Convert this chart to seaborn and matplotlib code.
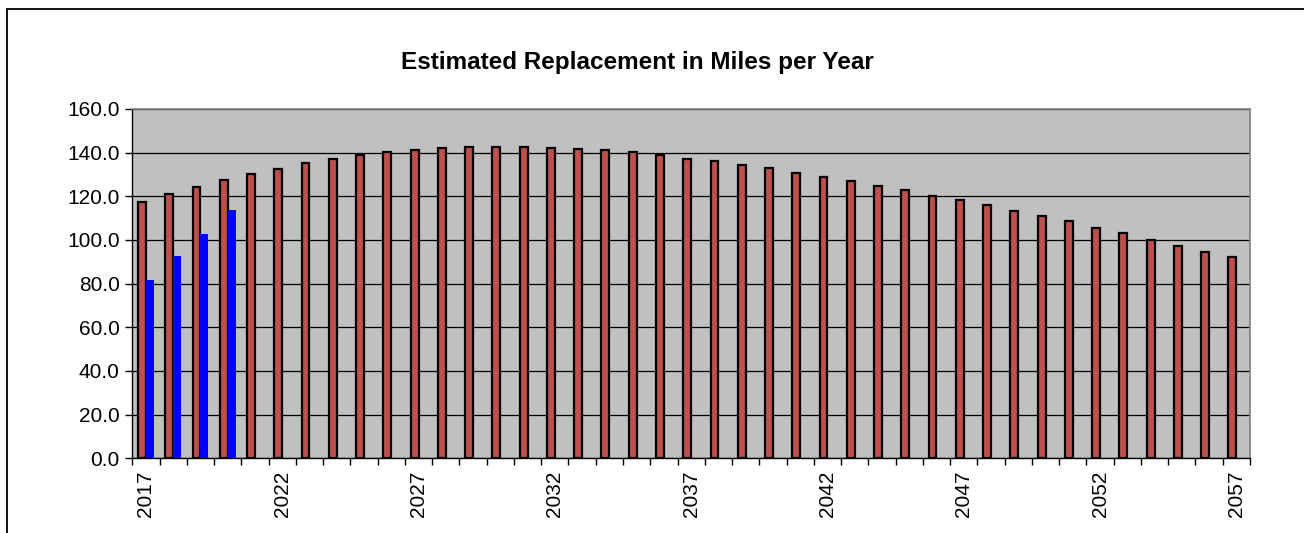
import pandas as pd
import matplotlib
matplotlib.use('Agg')
import matplotlib.pyplot as plt
import matplotlib.patches as patches
from matplotlib.ticker import FixedLocator, FormatStrFormatter
import seaborn as sns

# Values
years = list(range(2017, 2058))
estimated = [117.2, 120.9, 124.1, 127.3, 130.1, 132.7, 135.2, 137.3, 138.9, 140.1,
             141.2, 142.1, 142.6, 142.6, 142.6, 142.1, 141.6, 141.0, 140.3, 138.9,
             137.3, 136.0, 134.3, 132.8, 130.8, 128.7, 126.9, 124.9, 123.0, 120.3,
             118.2, 115.8, 113.4, 110.9, 108.7, 105.6, 103.2, 100.0, 97.4, 94.7,
             92.3]
actual_years = [2017, 2018, 2019, 2020]
actual = [81.5, 92.7, 102.6, 113.7]
label_years = [2017, 2022, 2027, 2032, 2037, 2042, 2047, 2052, 2057]

title = 'Estimated Replacement in Miles per Year'

# Long-form table for seaborn
df = pd.concat([
    pd.DataFrame({'Year': years, 'Miles': estimated, 'Series': 'Estimated'}),
    pd.DataFrame({'Year': actual_years, 'Miles': actual, 'Series': 'Actual'}),
], ignore_index=True)

sns.set_style('white')
plt.rcParams['font.family'] = ['Liberation Sans', 'DejaVu Sans']

fig = plt.figure(figsize=(13.04, 5.33), dpi=100)
ax = fig.add_axes([132.3 / 1304, 1 - 458.3 / 533, (1250 - 132.3) / 1304, (458.3 - 109) / 533])
ax.set_facecolor('#C0C0C0')

sns.barplot(data=df, x='Year', y='Miles', hue='Series', order=years,
            hue_order=['Estimated', 'Actual'],
            palette={'Estimated': '#C0504D', 'Actual': '#0000FF'},
            saturation=1, width=0.58, dodge=True, errorbar=None,
            legend=False, ax=ax, zorder=3)

# black edge on the red series only
for bar in ax.containers[0]:
    bar.set_edgecolor('black')
    bar.set_linewidth(1.6)
for bar in ax.containers[1]:
    bar.set_linewidth(0)

ax.set_xlim(-0.5, len(years) - 0.5)
ax.set_ylim(0, 160)
ax.set_yticks(range(0, 161, 20))
ax.yaxis.set_major_formatter(FormatStrFormatter('%.1f'))
ax.yaxis.grid(True, color='black', linewidth=0.9, zorder=1)
ax.set_axisbelow(True)

# labels every 5 years, tick marks on category boundaries
ax.set_xticks([years.index(y) for y in label_years])
ax.set_xticklabels([str(y) for y in label_years], rotation=90)
ax.xaxis.set_minor_locator(FixedLocator([i - 0.5 for i in range(len(years) + 1)]))
ax.tick_params(axis='x', which='major', length=0, pad=9, labelsize=15, labelcolor='black')
ax.tick_params(axis='x', which='minor', length=5, width=1, color='black', direction='out', bottom=True)
ax.tick_params(axis='y', length=5, width=1, color='black', direction='out', left=True,
               labelsize=15, pad=4, labelcolor='black')

ax.set_xlabel('')
ax.set_ylabel('')

for side in ['top', 'right']:
    ax.spines[side].set_color('#808080')
    ax.spines[side].set_linewidth(1.2)
for side in ['left', 'bottom']:
    ax.spines[side].set_color('black')
    ax.spines[side].set_linewidth(1.0)

fig.text(637 / 1304, 1 - 62 / 533, title, ha='center', va='center',
         fontsize=17.5, fontweight='bold', color='black')

# outer chart frame (only left and top edges visible in the crop)
frame = patches.Rectangle((6.5 / 1304, -0.2), 1.2, 0.2 + 1 - 8.5 / 533,
                          transform=fig.transFigure, fill=False,
                          edgecolor='black', linewidth=1.3)
fig.add_artist(frame)

fig.savefig('out.png', dpi=100)
